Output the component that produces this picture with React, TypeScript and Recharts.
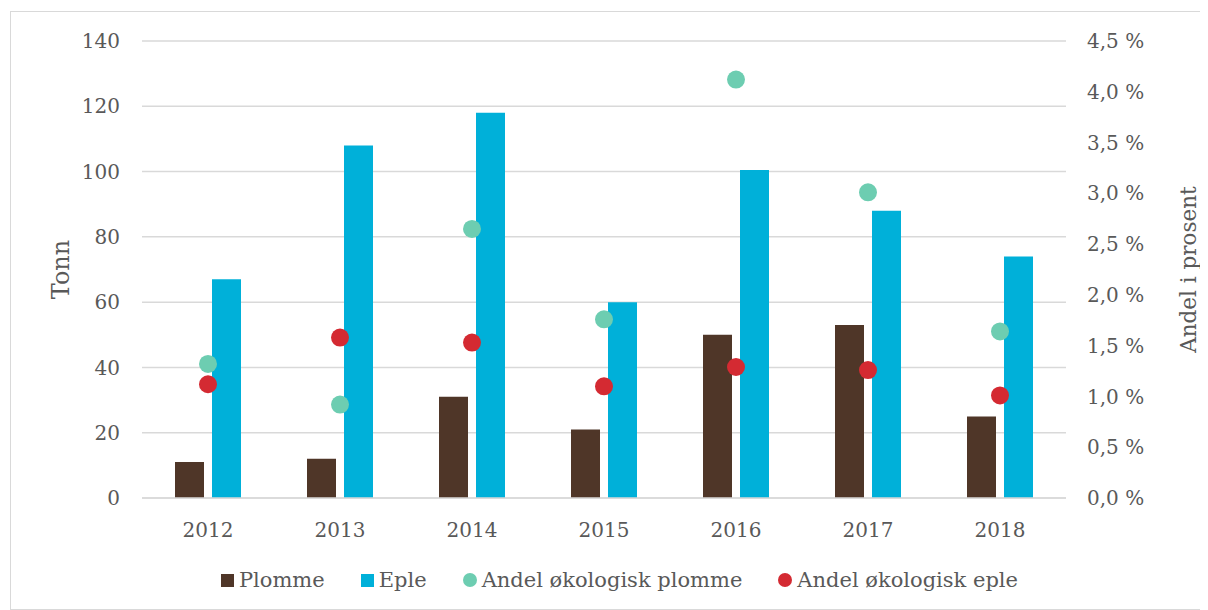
import React from 'react';
import { ComposedChart, Bar, Scatter, XAxis, YAxis, CartesianGrid, Label } from 'recharts';

const years = ['2012', '2013', '2014', '2015', '2016', '2017', '2018'];
const plomme = [11, 12, 31, 21, 50, 53, 25];
const eple = [67, 108, 118, 60, 100.5, 88, 74];
const andelPlomme = [1.32, 0.92, 2.65, 1.76, 4.12, 3.01, 1.64];
const andelEple = [1.12, 1.58, 1.53, 1.1, 1.29, 1.26, 1.01];
const leftTicks = [0, 20, 40, 60, 80, 100, 120, 140];
const rightTicks = [0, 0.5, 1, 1.5, 2, 2.5, 3, 3.5, 4, 4.5];

const COLORS = {
  plomme: '#4f3628',
  eple: '#00b0d9',
  andelPlomme: '#6dcdb1',
  andelEple: '#d42a32',
};
const TEXT = '#595959';
const GRID = '#d9d9d9';
const FONT = "'DejaVu Serif', serif";

const data = years.map((y, i) => ({
  year: y,
  plomme: plomme[i],
  eple: eple[i],
  andelPlomme: andelPlomme[i],
  andelEple: andelEple[i],
}));

const legendItems = [
  { label: 'Plomme', color: COLORS.plomme, shape: 'square' },
  { label: 'Eple', color: COLORS.eple, shape: 'square' },
  { label: 'Andel økologisk plomme', color: COLORS.andelPlomme, shape: 'circle' },
  { label: 'Andel økologisk eple', color: COLORS.andelEple, shape: 'circle' },
];

const fmtPct = (v: number) => v.toFixed(1).replace('.', ',') + ' %';

const dot = (color: string) => (p: any) =>
  p.cx == null || p.cy == null ? <g /> : <circle cx={p.cx} cy={p.cy} r={9} fill={color} />;

export default function App() {
  const tickStyle = { fill: TEXT, fontSize: 20, fontFamily: FONT };
  return (
    <div
      style={{
        position: 'relative',
        marginLeft: 2,
        marginTop: 3,
        width: 1196,
        height: 597,
        borderTop: `1px solid ${GRID}`,
        borderLeft: `1px solid ${GRID}`,
        borderBottom: `1px solid ${GRID}`,
        fontFamily: FONT,
        background: '#fff',
      }}
    >
      <ComposedChart
        width={1196}
        height={597}
        data={data}
        margin={{ top: 29, right: 0, bottom: 81, left: 0 }}
        barSize={29}
        barGap={8}
      >
        <CartesianGrid vertical={false} stroke={GRID} strokeWidth={1.5} yAxisId="left" />
        <XAxis
          dataKey="year"
          height={30}
          axisLine={{ stroke: GRID, strokeWidth: 1.5 }}
          tickLine={false}
          tickSize={0}
          tickMargin={25}
          tick={tickStyle}
        />
        <YAxis
          yAxisId="left"
          domain={[0, 140]}
          ticks={leftTicks}
          width={131}
          axisLine={false}
          tickLine={false}
          tickSize={0}
          tickMargin={22}
          tick={tickStyle}
        >
          <Label
            value="Tonn"
            angle={-90}
            position="insideLeft"
            offset={49}
            style={{ textAnchor: 'middle', fill: TEXT, fontSize: 24, fontFamily: FONT }}
          />
        </YAxis>
        <YAxis
          yAxisId="right"
          orientation="right"
          domain={[0, 4.5]}
          ticks={rightTicks}
          width={141}
          axisLine={false}
          tickLine={false}
          tickSize={0}
          tickMargin={21}
          tick={{ ...tickStyle, textAnchor: 'start' }}
          tickFormatter={fmtPct}
        >
          <Label
            value="Andel i prosent"
            angle={-90}
            position="insideRight"
            offset={19}
            style={{ textAnchor: 'middle', fill: TEXT, fontSize: 21.5, fontFamily: FONT }}
          />
        </YAxis>
        <Bar yAxisId="left" dataKey="plomme" fill={COLORS.plomme} isAnimationActive={false} />
        <Bar yAxisId="left" dataKey="eple" fill={COLORS.eple} isAnimationActive={false} />
        <Scatter
          yAxisId="right"
          dataKey="andelPlomme"
          fill={COLORS.andelPlomme}
          shape={dot(COLORS.andelPlomme)}
          isAnimationActive={false}
        />
        <Scatter
          yAxisId="right"
          dataKey="andelEple"
          fill={COLORS.andelEple}
          shape={dot(COLORS.andelEple)}
          isAnimationActive={false}
        />
      </ComposedChart>
      <div
        style={{
          position: 'absolute',
          left: 0,
          width: 1196,
          top: 555,
          height: 26,
          display: 'flex',
          justifyContent: 'center',
          alignItems: 'center',
          paddingLeft: 21,
          boxSizing: 'border-box',
          color: TEXT,
          fontSize: 21,
          lineHeight: '26px',
        }}
      >
        {legendItems.map((it, i) => (
          <div
            key={it.label}
            style={{ display: 'flex', alignItems: 'center', marginLeft: i === 0 ? 0 : 36 }}
          >
            <span
              style={{
                display: 'inline-block',
                width: it.shape === 'square' ? 13 : 14,
                height: it.shape === 'square' ? 13 : 14,
                borderRadius: it.shape === 'circle' ? '50%' : 0,
                background: it.color,
                marginRight: 5,
              }}
            />
            <span style={{ whiteSpace: 'nowrap' }}>{it.label}</span>
          </div>
        ))}
      </div>
    </div>
  );
}
